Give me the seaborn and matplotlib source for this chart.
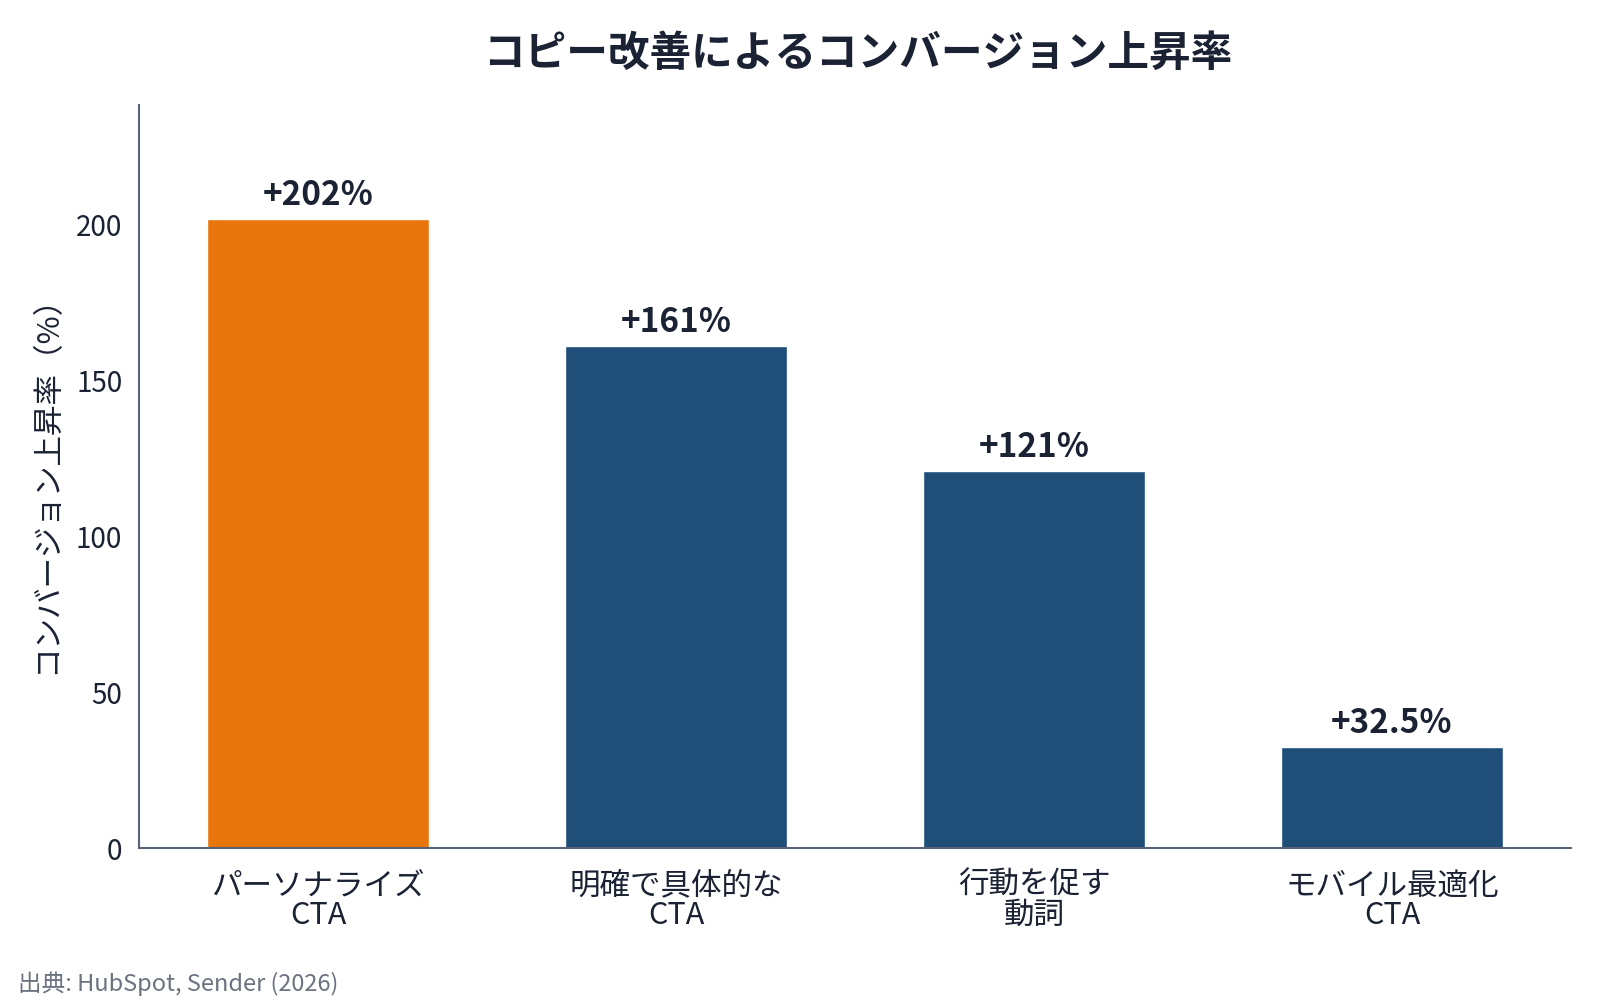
import matplotlib
matplotlib.use("Agg")
import matplotlib.pyplot as plt
import seaborn as sns
import pandas as pd

# data
categories = ["パーソナライズ\nCTA", "明確で具体的な\nCTA", "行動を促す\n動詞", "モバイル最適化\nCTA"]
values = [202, 161, 121, 32.5]
value_labels = ["+202%", "+161%", "+121%", "+32.5%"]
bar_colors = ["#E8760C", "#1F4E79", "#1F4E79", "#1F4E79"]
y_ticks = [0, 50, 100, 150, 200]

sns.set_theme(style="white")
plt.rcParams['font.family'] = ['Noto Sans CJK JP', 'DejaVu Sans']

text_col = "#1A2233"
spine_col = "#5A6275"

df = pd.DataFrame({"cat": categories, "val": values})

fig = plt.figure(figsize=(16, 10), dpi=100)
ax = fig.add_axes([0.0869, 0.152, 0.8950, 0.743])

sns.barplot(data=df, x="cat", y="val", hue="cat", palette=bar_colors,
            legend=False, width=0.62, saturation=1, ax=ax)

for i, (v, lab) in enumerate(zip(values, value_labels)):
    ax.annotate(lab, (i, v), xytext=(0, 5), textcoords="offset points",
                ha="center", va="bottom", fontsize=24, fontweight="bold", color=text_col)

ax.set_ylim(0, 238.5)
ax.set_yticks(y_ticks)
ax.set_xlabel("")
ax.set_ylabel("コンバージョン上昇率（%）", fontsize=22, color=text_col, labelpad=10)
ax.tick_params(axis="x", labelsize=22, colors=text_col, length=6, width=1.5, color=spine_col, pad=10)
ax.tick_params(axis="y", labelsize=20, colors=text_col, length=6, width=1.5, color=spine_col, pad=6)
for lbl in ax.get_xticklabels():
    lbl.set_linespacing(0.95)

sns.despine(ax=ax)
for s in ["left", "bottom"]:
    ax.spines[s].set_color(spine_col)
    ax.spines[s].set_linewidth(1.5)

fig.text(0.536, 0.946, "コピー改善によるコンバージョン上昇率", ha="center", va="center",
         fontsize=30, fontweight="bold", color=text_col)
fig.text(0.011, 0.016, "出典: HubSpot, Sender (2026)", ha="left", va="center",
         fontsize=17, color="#6B7280")

fig.savefig("out.png", dpi=100)
